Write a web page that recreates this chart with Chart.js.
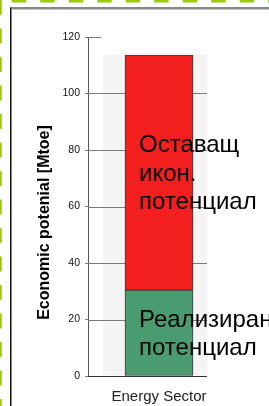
<!DOCTYPE html>
<html>
<head>
<meta charset="utf-8">
<script src="https://cdn.jsdelivr.net/npm/chart.js@4.4.1/dist/chart.umd.min.js"></script>
<style>
  html, body { margin: 0; padding: 0; background: #fff; }
  #wrap { position: relative; width: 269px; height: 406px; overflow: hidden; }
  #frame, #wrap canvas { position: absolute; left: 0; top: 0; }
</style>
</head>
<body>
<div id="wrap">
  <svg id="frame" width="269" height="406">
    <line x1="11.7" y1="1" x2="269" y2="1" stroke="#9c0" stroke-width="3" stroke-dasharray="14.5 14"/>
    <line x1="0" y1="0" x2="0" y2="406" stroke="#9c0" stroke-width="3.5" stroke-dasharray="15 13.5"/>
    <line x1="10" y1="8" x2="269" y2="8" stroke="#111" stroke-width="1"/>
    <line x1="11" y1="9" x2="269" y2="9" stroke="#888" stroke-width="1"/>
    <line x1="10.5" y1="7.5" x2="10.5" y2="406" stroke="#111" stroke-width="1"/>
    <line x1="11.5" y1="8.5" x2="11.5" y2="406" stroke="#888" stroke-width="1"/>
  </svg>
  <canvas id="chart"></canvas>
</div>
<script>
(() => {
  "use strict";

  // data
  const categories = ["Energy Sector"];
  const realised = [30.4];
  const remaining = [83.2];
  const seriesNames = ["Реализиран потенциал", "Оставащ икон. потенциал"];
  const seriesLines = [["Реализиран", "потенциал"], ["Оставащ", "икон.", "потенциал"]];
  const yTitle = "Economic potenial [Mtoe]";
  const yMax = 120;
  const yStep = 20;

  const totals = realised.map((v, i) => v + remaining[i]);
  const FAMILY = '"Liberation Sans", Arial, sans-serif';
  const BAND_GAP = 8;

  Chart.defaults.font.family = FAMILY;

  // grid lines go over the grey band but under the bars
  const bandGrid = {
    id: "bandGrid",
    afterDatasetDraw(chart, args) {
      if (args.index !== 2) return;
      const { ctx, chartArea, scales: { y } } = chart;
      const band = args.meta.data[0];
      const right = band.x + band.width / 2 - BAND_GAP;
      ctx.save();
      ctx.lineWidth = 1;
      y.ticks.forEach((t) => {
        const py = Math.round(y.getPixelForValue(t.value)) + 0.5;
        const x2 = t.value === yMax ? chartArea.left + 13 : right;
        ctx.strokeStyle = t.value === 0 ? "#333" : "#7a7a7a";
        ctx.beginPath();
        ctx.moveTo(chartArea.left, py);
        ctx.lineTo(x2, py);
        ctx.stroke();
      });
      ctx.restore();
    },
  };

  // series names written inside their segments
  const segLabels = {
    id: "segLabels",
    afterDatasetsDraw(chart) {
      const { ctx } = chart;
      ctx.save();
      ctx.font = "24px " + FAMILY;
      ctx.fillStyle = "#000";
      ctx.textAlign = "left";
      ctx.textBaseline = "alphabetic";
      [0, 1].forEach((di) => {
        const el = chart.getDatasetMeta(di).data[0];
        const top = Math.min(el.y, el.base);
        const bottom = Math.max(el.y, el.base);
        const lines = seriesLines[di];
        const lh = 28.5;
        const mid = (top + bottom) / 2 + 8;
        const x = el.x - el.width / 2 + 14;
        lines.forEach((s, k) => {
          ctx.fillText(s, x, mid + (k - (lines.length - 1) / 2) * lh);
        });
      });
      ctx.restore();
    },
  };

  const yTitlePlugin = {
    id: "yTitle",
    afterDraw(chart) {
      const { ctx, chartArea } = chart;
      ctx.save();
      ctx.translate(45, (chartArea.top + chartArea.bottom) / 2 + 16);
      ctx.rotate(-Math.PI / 2);
      ctx.font = "bold 16px " + FAMILY;
      ctx.fillStyle = "#000";
      ctx.textAlign = "center";
      ctx.textBaseline = "middle";
      ctx.fillText(yTitle, 0, 0);
      ctx.restore();
    },
  };

  new Chart(document.getElementById("chart"), {
    type: "bar",
    data: {
      labels: categories,
      datasets: [
        {
          label: seriesNames[0],
          data: realised,
          stack: "a",
          backgroundColor: "#4a9c70",
          borderColor: "#3a3a3a",
          borderWidth: 1,
          borderSkipped: false,
          barThickness: 68,
        },
        {
          label: seriesNames[1],
          data: remaining,
          stack: "a",
          backgroundColor: "#f31e1e",
          borderColor: "#3a3a3a",
          borderWidth: 1,
          borderSkipped: false,
          barThickness: 68,
        },
        {
          label: "band",
          data: totals,
          stack: "band",
          grouped: false,
          order: 10,
          backgroundColor: "#f4f4f4",
          borderColor: "transparent",
          borderWidth: { top: 0, left: 0, bottom: 0, right: BAND_GAP },
          borderSkipped: false,
          barThickness: 104 + BAND_GAP,
        },
      ],
    },
    options: {
      responsive: true,
      maintainAspectRatio: false,
      animation: false,
      layout: { padding: { left: 10, right: 39, top: 37, bottom: 0 } },
      plugins: {
        legend: { display: false },
        tooltip: { enabled: false },
      },
      scales: {
        x: {
          stacked: true,
          offset: true,
          grid: { display: false, drawTicks: false },
          border: { display: false },
          ticks: { color: "#222", font: { size: 15 }, padding: 12 },
          afterFit(s) { s.height = 30; },
        },
        y: {
          stacked: true,
          min: 0,
          max: yMax,
          ticks: { stepSize: yStep, color: "#111", font: { size: 10.5 }, padding: 5 },
          grid: { drawOnChartArea: false, tickLength: 3, tickColor: "#777" },
          border: { color: "#555", width: 1 },
          afterFit(s) { s.width = 78; },
        },
      },
    },
    plugins: [bandGrid, segLabels, yTitlePlugin],
  });
})();
</script>
</body>
</html>
